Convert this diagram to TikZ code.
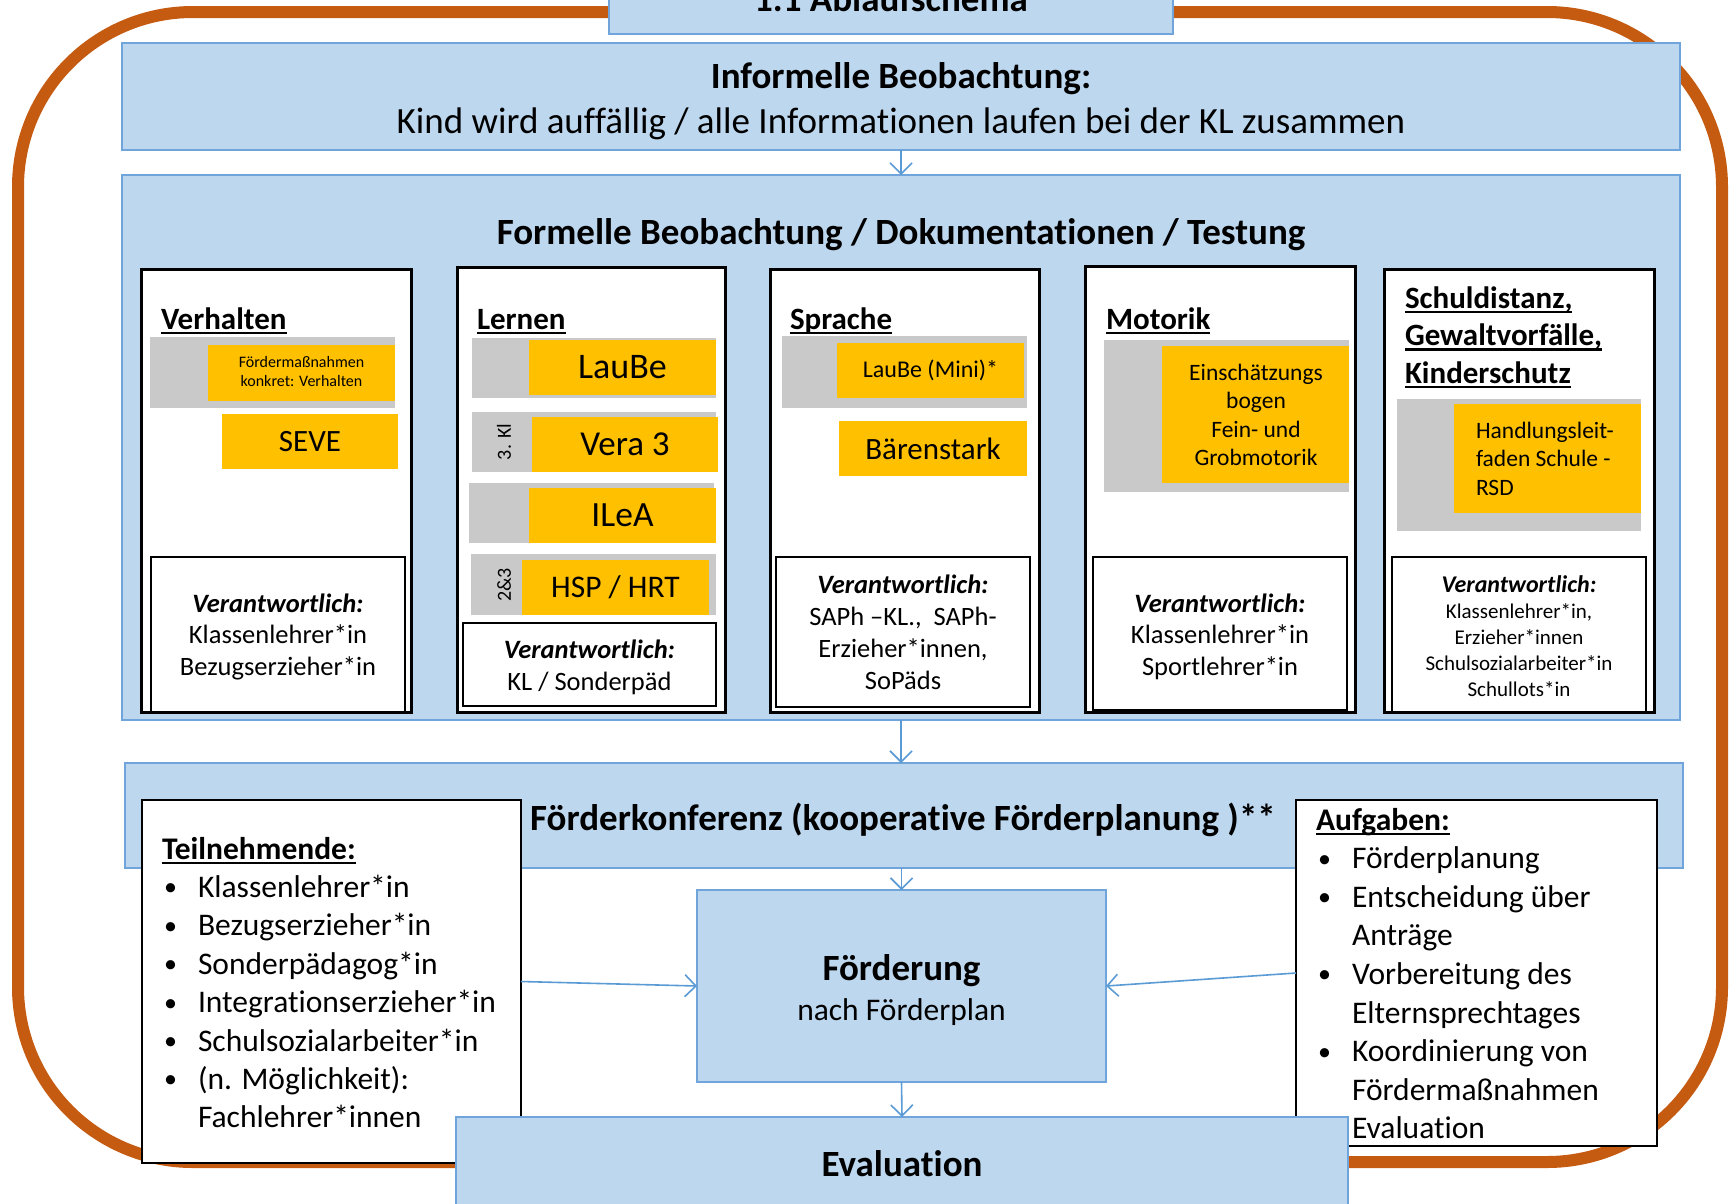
\documentclass[tikz,border=0pt]{standalone}
\usepackage{fontspec}
\setmainfont{Carlito}[Ligatures=NoCommon]
\usetikzlibrary{arrows.meta}
\definecolor{lblue}{HTML}{BDD7EE}
\definecolor{bluedge}{HTML}{6FA5DA}
\definecolor{arrowblue}{HTML}{5B9BD5}
\definecolor{frameorange}{HTML}{C55A11}
\definecolor{gold}{HTML}{FFC000}
\definecolor{lgrey}{HTML}{C9C9C9}
\newcommand\fs[2]{\fontsize{#1pt}{#2pt}\selectfont}
\newcommand\mytab[2]{\begin{tabular}[t]{@{}#1@{}}#2\end{tabular}}
\newcommand\myul[1]{\setbox0\hbox{#1}\rlap{\rule[-5pt]{\wd0}{2.3pt}}\box0}
\newcommand\bulitem{\makebox[36pt][l]{\hspace*{2pt}\raisebox{1.5pt}{\fontsize{26pt}{26pt}\selectfont\textbullet}}}
\newcommand\nobul{\hspace*{36pt}}
\tikzset{
 bluebox/.style={draw=bluedge, line width=1.2pt, fill=lblue, inner sep=0pt, outer sep=0pt, anchor=north west},
 colbox/.style={draw=black, line width=3pt, fill=white, inner sep=0pt, outer sep=0pt, anchor=north west},
 respbox/.style={draw=black, line width=2.6pt, fill=white, inner sep=0pt, outer sep=0pt, anchor=north west},
 greybox/.style={fill=lgrey, inner sep=0pt, outer sep=0pt, anchor=north west},
 goldbox/.style={fill=gold, inner sep=0pt, outer sep=0pt, anchor=north west, align=center},
 txt/.style={inner sep=0pt, outer sep=0pt, anchor=base},
 arr/.style={draw=arrowblue, line width=1.6pt, -{Straight Barb[length=11pt,width=22pt,line width=1.6pt]}},
 outerframe/.style={draw=frameorange, line width=12pt, rounded corners=175pt},
}
\begin{document}
\begin{tikzpicture}[x=1pt,y=-1pt]
\useasboundingbox (0,0) rectangle (1731,1203);
\fill[white] (0,0) rectangle (1731,1203);
% outer frame
\draw[outerframe] (18,12) rectangle (1722,1162);
% title
\node[bluebox, minimum width=564pt, minimum height=60pt] (title) at (609,-26) {};
\node[txt, font=\fs{37}{44}\bfseries] (titletxt) at (891,11) {1.1 Ablaufschema};
% informelle
\node[bluebox, minimum width=1558pt, minimum height=107pt] (inf) at (122,43) {};
\node[txt, font=\fs{37}{45}] (inftxt) at (901,88) {\mytab{c}{\textbf{Informelle Beobachtung:}\\Kind wird auffällig / alle Informationen laufen bei der KL zusammen}};
% formelle
\node[bluebox, minimum width=1558pt, minimum height=545pt] (form) at (122,175) {};
\node[txt, font=\fs{37}{44}\bfseries] (formtxt) at (901,244) {Formelle Beobachtung / Dokumentationen / Testung};
% column 1 Verhalten
\node[colbox, minimum width=270pt, minimum height=443pt] (c1) at (141,269) {};
\node[txt, anchor=base west, font=\fs{31}{38}\bfseries] (c1t) at (161,329) {\myul{Verhalten}};
\node[greybox, minimum width=245pt, minimum height=71pt] (g1) at (150,337) {};
\node[goldbox, minimum width=187pt, minimum height=56pt, font=\fs{16}{19.5}] (o1) at (208,345) {\mytab{c}{Fördermaßnahmen\\konkret: Verhalten}};
\node[goldbox, minimum width=176pt, minimum height=55pt, font=\fs{31}{38}] (o1b) at (222,414) {SEVE};
\node[respbox, minimum width=254pt, minimum height=155pt] (v1) at (151,557) {};
\node[txt, font=\fs{26.5}{31.5}] (v1t) at (278,612) {\mytab{c}{\textbf{\textit{Verantwortlich:}}\\Klassenlehrer*in\\Bezugserzieher*in}};
% column 2 Lernen
\node[colbox, minimum width=268pt, minimum height=445pt] (c2) at (457,267) {};
\node[txt, anchor=base west, font=\fs{31}{38}\bfseries] (c2t) at (477,329) {\myul{Lernen}};
\node[greybox, minimum width=244pt, minimum height=60pt] (g2a) at (472,338) {};
\node[goldbox, minimum width=187pt, minimum height=55pt, font=\fs{36}{44}] (o2a) at (529,340) {LauBe};
\node[greybox, minimum width=244pt, minimum height=60pt] (g2b) at (472,412) {};
\node[goldbox, minimum width=186pt, minimum height=55pt, font=\fs{35}{42}] (o2b) at (532,417) {Vera 3};
\node[txt, anchor=center, rotate=90, font=\fs{20}{24}] (kl3) at (504,442) {3. Kl};
\node[greybox, minimum width=245pt, minimum height=60pt] (g2c) at (469,483) {};
\node[goldbox, minimum width=187pt, minimum height=55pt, font=\fs{35.5}{43}] (o2c) at (529,488) {ILeA};
\node[greybox, minimum width=245pt, minimum height=61pt] (g2d) at (471,554) {};
\node[goldbox, minimum width=187pt, minimum height=55pt, font=\fs{31.5}{38}] (o2d) at (522,560) {HSP / HRT};
\node[txt, anchor=center, rotate=90, font=\fs{20}{24}] (kl23) at (504,585) {2\&3};
\node[respbox, minimum width=253pt, minimum height=83pt] (v2) at (463,623) {};
\node[txt, font=\fs{26.5}{32}] (v2t) at (589.5,658) {\mytab{c}{\textbf{\textit{Verantwortlich:}}\\KL / Sonderpäd}};
% column 3 Sprache
\node[colbox, minimum width=269pt, minimum height=443pt] (c3) at (770,269) {};
\node[txt, anchor=base west, font=\fs{31}{38}\bfseries] (c3t) at (790,329) {\myul{Sprache}};
\node[greybox, minimum width=245pt, minimum height=72pt] (g3) at (782,336) {};
\node[goldbox, minimum width=187pt, minimum height=55pt, font=\fs{24}{29}] (o3) at (837,343) {LauBe (Mini)*};
\node[goldbox, minimum width=188pt, minimum height=55pt, font=\fs{31}{38}] (o3b) at (839,421) {Bärenstark};
\node[respbox, minimum width=254pt, minimum height=150pt] (v3) at (776,557) {};
\node[txt, font=\fs{26.5}{32}] (v3t) at (903,593) {\mytab{c}{\textbf{\textit{Verantwortlich:}}\\SAPh –KL.,\ \ SAPh-\\Erzieher*innen,\\SoPäds}};
% column 4 Motorik
\node[colbox, minimum width=270pt, minimum height=446pt] (c4) at (1085,266) {};
\node[txt, anchor=base west, font=\fs{31}{38}\bfseries] (c4t) at (1106,329) {\myul{Motorik}};
\node[greybox, minimum width=245pt, minimum height=152pt] (g4) at (1104,340) {};
\node[goldbox, minimum width=187pt, minimum height=137pt] (o4) at (1162,346) {};
\node[txt, font=\fs{23.5}{28.5}] (o4t) at (1256,380) {\mytab{c}{Einschätzungs\\bogen\\Fein- und\\Grobmotorik}};
\node[respbox, minimum width=254pt, minimum height=153pt] (v4) at (1093,557) {};
\node[txt, font=\fs{26.5}{31.5}] (v4t) at (1220,612) {\mytab{c}{\textbf{\textit{Verantwortlich:}}\\Klassenlehrer*in\\Sportlehrer*in}};
% column 5 Schuldistanz
\node[colbox, minimum width=270pt, minimum height=443pt] (c5) at (1384,269) {};
\node[txt, anchor=base west, font=\fs{31}{37.5}\bfseries] (c5t) at (1405,308) {\mytab{l}{\myul{Schuldistanz,}\\\myul{Gewaltvorfälle,}\\\myul{Kinderschutz}}};
\node[greybox, minimum width=244pt, minimum height=132pt] (g5) at (1397,399) {};
\node[goldbox, minimum width=187pt, minimum height=109pt] (o5) at (1454,404) {};
\node[txt, anchor=base west, font=\fs{23.5}{28.5}] (o5t) at (1476,438) {\mytab{l}{Handlungsleit-\\faden Schule -\\RSD}};
\node[respbox, minimum width=254pt, minimum height=155pt] (v5) at (1392,557) {};
\node[txt, font=\fs{21}{26}] (v5t) at (1519,592) {\mytab{c}{\textbf{\textit{\fontsize{24pt}{26pt}\selectfont Verantwortlich:}}\\Klassenlehrer*in,\\Erzieher*innen\\Schulsozialarbeiter*in\\Schullots*in}};
% Foerderkonferenz
\node[bluebox, minimum width=1558pt, minimum height=105pt] (konf) at (125,763) {};
\node[respbox, minimum width=379pt, minimum height=363pt] (teil) at (142,800) {};
\node[txt, anchor=base west, font=\fs{31.5}{38.4}] (teilt) at (162,859) {\mytab{l}{\textbf{\myul{Teilnehmende:}}\\
\bulitem Klassenlehrer*in\\
\bulitem Bezugserzieher*in\\
\bulitem Sonderpädagog*in\\
\bulitem Integrationserzieher*in\\
\bulitem Schulsozialarbeiter*in\\
\bulitem (n. Möglichkeit):\\
\nobul Fachlehrer*innen}};
\node[respbox, minimum width=361pt, minimum height=346pt] (aufg) at (1296,800) {};
\node[txt, anchor=base west, font=\fs{31.5}{38.6}] (aufgt) at (1316,830) {\mytab{l}{\textbf{\myul{Aufgaben:}}\\
\bulitem Förderplanung\\
\bulitem Entscheidung über\\
\nobul Anträge\\
\bulitem Vorbereitung des\\
\nobul Elternsprechtages\\
\bulitem Koordinierung von\\
\nobul Fördermaßnahmen\\
\nobul Evaluation}};
\node[txt, font=\fs{37}{44}\bfseries] (konft) at (903,830) {Förderkonferenz (kooperative Förderplanung )**};
% Foerderung
\node[bluebox, minimum width=409pt, minimum height=192pt] (foerd) at (697,890) {};
\node[txt, font=\fs{37}{40}] (foerdt) at (901.5,980) {\mytab{c}{\textbf{Förderung}\\\fontsize{31.5pt}{38pt}\selectfont nach Förderplan}};
% Evaluation
\node[bluebox, minimum width=892pt, minimum height=130pt] (eval) at (456,1117) {};
\node[txt, font=\fs{37}{44}\bfseries] (evalt) at (902,1176) {Evaluation};
% arrows
\draw[arr] (inf.south) -- (form.north);
\draw[arr] (form.south) -- (form.south |- konf.north);
\draw[arr] (foerd.north |- konf.south) -- (foerd.north);
\draw[arr] (foerd.south) -- (eval.north);
\draw[arr] (teil.east) -- (foerd.west);
\draw[arr] (aufg.west) -- (foerd.east);
\end{tikzpicture}
\end{document}
